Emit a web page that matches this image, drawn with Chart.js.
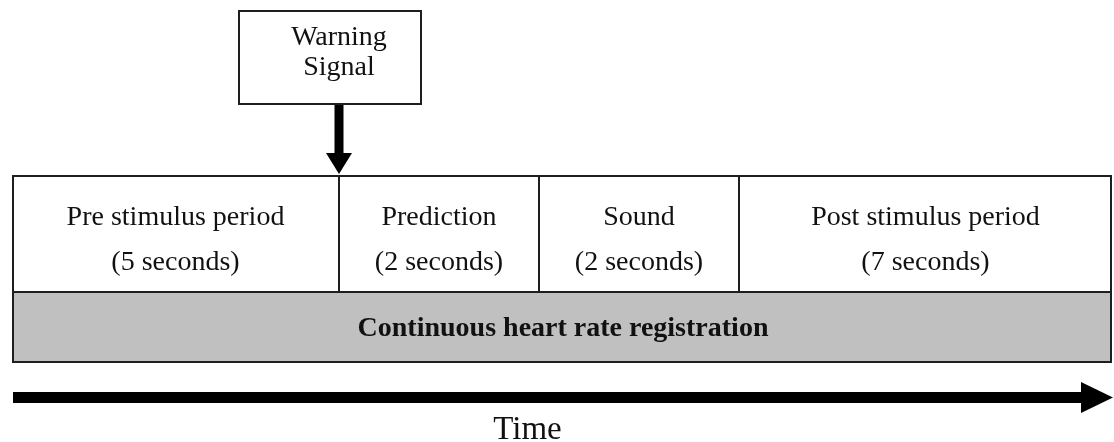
<!DOCTYPE html>
<html>
<head>
<meta charset="utf-8">
<script src="https://cdn.jsdelivr.net/npm/chart.js@4.4.1/dist/chart.umd.min.js"></script>
<style>
  html, body { margin: 0; padding: 0; background: #fff; }
  canvas { display: block; }
</style>
</head>
<body>
<canvas id="timelineChart" width="1114" height="442"></canvas>
<script>
const phaseNames = ["Pre stimulus period", "Prediction", "Sound", "Post stimulus period"];
const phaseSeconds = [5, 2, 2, 7];
const signalLines = ["Warning", "Signal"];
const registrationLabel = "Continuous heart rate registration";
const axisLabel = "Time";

// drawing geometry: x in diagram units from the left edge of the row, y in px from the top
const columnWidths = [327, 200, 200, 373];
const signalSpan = [226, 410];
const rowSignal = { center: 57.5, thickness: 95 };
const rowPhases = { center: 233.5, thickness: 117 };
const rowRegistration = { center: 327.5, thickness: 71 };
const timeArrowY = 397.5;
const timeLabelPos = { x: 515.5, y: 439 };

const serif = "'Liberation Serif', 'Times New Roman', serif";
const lineColor = "#1e1e1e";
const textColor = "#111";

let cursor = 0;
const phaseBars = columnWidths.map(w => {
    const bar = { x: [cursor, cursor + w], y: rowPhases.center };
    cursor += w;
    return bar;
});
const totalWidth = cursor;

const diagramLabels = {
    id: "diagramLabels",
    afterDatasetsDraw(chart) {
        const ctx = chart.ctx;
        const xs = chart.scales.x;
        const ys = chart.scales.y;
        const signal = chart.getDatasetMeta(0).data[0];
        const phases = chart.getDatasetMeta(1).data;
        const reg = chart.getDatasetMeta(2).data[0];

        ctx.save();
        ctx.fillStyle = "#000";

        // arrow from the warning box down to the end of the first phase
        const ax = phases[0].x;
        const top = signal.y + signal.height / 2;
        const tip = phases[0].y - phases[0].height / 2 - 1;
        const head = 21;
        ctx.fillRect(ax - 4.5, top, 9, tip - top - head + 1);
        ctx.beginPath();
        ctx.moveTo(ax - 13, tip - head);
        ctx.lineTo(ax + 13, tip - head);
        ctx.lineTo(ax, tip);
        ctx.closePath();
        ctx.fill();

        // time arrow
        const tx0 = xs.getPixelForValue(0) + 1;
        const tx1 = xs.getPixelForValue(totalWidth) + 1;
        const ty = ys.getPixelForValue(timeArrowY);
        const headLen = 32;
        ctx.fillRect(tx0, ty - 5.5, tx1 - headLen - tx0 + 1, 11);
        ctx.beginPath();
        ctx.moveTo(tx1 - headLen, ty - 15.5);
        ctx.lineTo(tx1, ty);
        ctx.lineTo(tx1 - headLen, ty + 15.5);
        ctx.closePath();
        ctx.fill();

        // texts
        ctx.fillStyle = textColor;
        ctx.textAlign = "center";
        ctx.textBaseline = "alphabetic";

        ctx.font = "28px " + serif;
        ctx.fillText(signalLines[0], ax, signal.y - 12.5);
        ctx.fillText(signalLines[1], ax, signal.y + 17.5);

        phases.forEach((bar, i) => {
            const cx = (bar.x + bar.base) / 2;
            ctx.fillText(phaseNames[i], cx, bar.y - 8.5);
            ctx.fillText("(" + phaseSeconds[i] + " seconds)", cx, bar.y + 36.5);
        });

        ctx.font = "bold 28px " + serif;
        ctx.fillText(registrationLabel, (reg.x + reg.base) / 2 + 1, reg.y + 8.5);

        ctx.font = "33px " + serif;
        ctx.fillText(axisLabel, xs.getPixelForValue(timeLabelPos.x), ys.getPixelForValue(timeLabelPos.y));

        ctx.restore();
    }
};

function sideBorders(first, last, topW, bottomW) {
    return ctx => ({
        top: topW,
        bottom: bottomW,
        left: ctx.dataIndex === first ? 2 : 1,
        right: ctx.dataIndex === last ? 2 : 1
    });
}

const chart = new Chart(document.getElementById("timelineChart").getContext("2d"), {
    type: "bar",
    data: {
        datasets: [
            {
                label: "Warning signal",
                data: [{ x: signalSpan, y: rowSignal.center }],
                barThickness: rowSignal.thickness,
                backgroundColor: "#fff",
                borderColor: lineColor,
                borderWidth: 2
            },
            {
                label: "Phases",
                data: phaseBars,
                barThickness: rowPhases.thickness,
                backgroundColor: "#fff",
                borderColor: lineColor,
                borderWidth: sideBorders(0, phaseBars.length - 1, 2, 1)
            },
            {
                label: registrationLabel,
                data: [{ x: [0, totalWidth], y: rowRegistration.center }],
                barThickness: rowRegistration.thickness,
                backgroundColor: "#c0c0c0",
                borderColor: lineColor,
                borderWidth: { top: 1, bottom: 2, left: 2, right: 2 }
            }
        ]
    },
    options: {
        indexAxis: "y",
        responsive: false,
        animation: false,
        layout: { padding: 0 },
        datasets: { bar: { grouped: false, borderSkipped: false, inflateAmount: 0 } },
        scales: {
            x: { type: "linear", min: -12, max: 1102, display: false },
            y: { type: "linear", reverse: true, min: 0, max: 442, offset: false, display: false, grid: { offset: false } }
        },
        plugins: {
            legend: { display: false },
            tooltip: { enabled: false },
            title: { display: false }
        }
    },
    plugins: [diagramLabels]
});
</script>
</body>
</html>
